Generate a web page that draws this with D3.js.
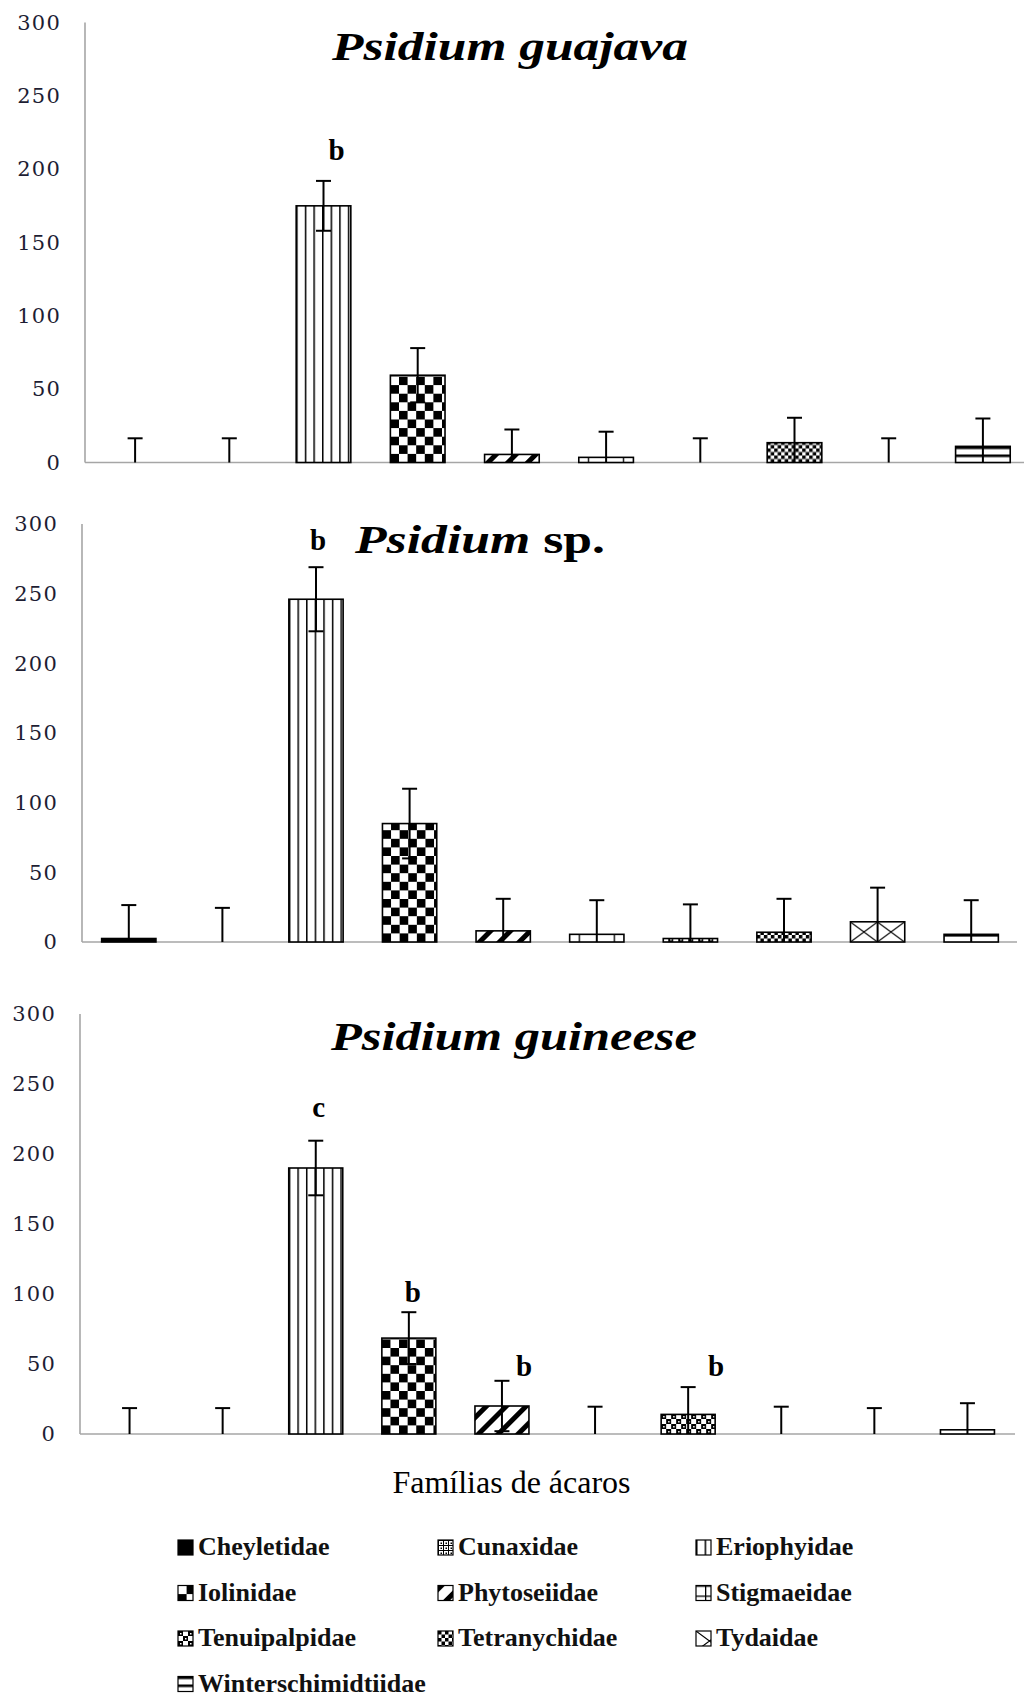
<!DOCTYPE html>
<html>
<head>
<meta charset="utf-8">
<script src="https://cdn.jsdelivr.net/npm/d3@7"></script>
<style>
  body { margin: 0; background: #fff; }
  svg { display: block; }
</style>
</head>
<body>
<div id="chart"></div>
<script>

// ---------------- data ----------------
var families = ['Cheyletidae', 'Cunaxidae', 'Eriophyidae', 'Iolinidae', 'Phytoseiidae',
    'Stigmaeidae', 'Tenuipalpidae', 'Tetranychidae', 'Tydaidae', 'Winterschimidtiidae'];

var yTicks = [0, 50, 100, 150, 200, 250, 300];

var guajavaMean = [0, 0, 175, 59.5, 5.5, 3.5, 0, 13.5, 0, 11];
var guajavaErr = [16.5, 16.5, 17, 18.5, 17, 17.5, 16.5, 17, 16.5, 19];
var guajavaLetters = ['', '', 'b', '', '', '', '', '', '', ''];

var spMean = [2.5, 0, 246, 85, 8, 5.5, 2.5, 7, 14.5, 5.5];
var spErr = [24, 24.5, 23, 25, 23, 24.5, 24.5, 24, 24.5, 24.5];
var spLetters = ['', '', 'b', '', '', '', '', '', '', ''];

var guineenseMean = [0, 0, 190, 68.5, 20, 0, 14, 0, 0, 3];
var guineenseErr = [18.5, 18.5, 19.5, 18.5, 18, 19.5, 19.5, 19.5, 18.5, 19];
var guineenseLetters = ['', '', 'c', 'b', 'b', '', 'b', '', '', ''];

var xTitle = 'Famílias de ácaros';

// pattern id per family (same order as families)
var patternIds = ['solid', 'cunax', 'erio', 'iolin', 'phyto', 'stigma', 'tenui', 'tetra', 'tydai', 'winter'];


function getChart(params) {
    var attrs = {
        svgWidth: 1026,
        svgHeight: 1698,
        panels: [],
        fontSerif: '"Liberation Serif", "Times New Roman", serif',
        fontTicks: '"DejaVu Serif", serif',
        axisColor: '#a6a6a6'
    };

    Object.keys(attrs).forEach(function (key) {
        if (params && params[key]) {
            attrs[key] = params[key];
        }
    });

    var main = function (selection) {
        selection.each(function () {

            var svg = d3.select(this)
                .append('svg')
                .attr('width', attrs.svgWidth)
                .attr('height', attrs.svgHeight);

            var defs = svg.append('defs');
            buildPatterns(defs);

            // ---------- panels ----------
            attrs.panels.forEach(function (p) {
                var g = svg.append('g');

                var x = d3.scaleBand()
                    .domain(families)
                    .range(p.xRange)
                    .paddingInner(0.42)
                    .paddingOuter(0.21);

                var y = d3.scaleLinear()
                    .domain([0, 300])
                    .range([p.base, p.top]);

                // y labels (no ticks, no domain)
                var yAxis = g.append('g')
                    .attr('transform', 'translate(' + p.axisX + ',0)')
                    .call(d3.axisLeft(y).tickValues(yTicks).tickSize(0).tickPadding(24));
                yAxis.select('.domain').remove();
                yAxis.selectAll('text')
                    .attr('font-family', attrs.fontTicks)
                    .attr('font-size', 21)
                    .attr('letter-spacing', 1.2)
                    .attr('fill', '#1d1d33');

                // axis lines
                g.append('line')
                    .attr('x1', p.axisX).attr('x2', p.axisX)
                    .attr('y1', y(300)).attr('y2', y(0))
                    .attr('stroke', attrs.axisColor).attr('stroke-width', 1.6);
                g.append('line')
                    .attr('x1', p.axisX).attr('x2', p.lineEnd)
                    .attr('y1', y(0)).attr('y2', y(0))
                    .attr('stroke', attrs.axisColor).attr('stroke-width', 1.6);

                var rows = families.map(function (f, i) {
                    return { fam: f, i: i, v: p.mean[i], e: p.err[i], letter: p.letters[i] };
                });

                // bars (each bar in its own group so the pattern starts at its corner)
                var barG = g.selectAll('.bar')
                    .data(rows.filter(function (d) { return d.v > 0; }))
                    .enter()
                    .append('g')
                    .attr('class', 'bar')
                    .attr('transform', function (d) { return 'translate(' + x(d.fam) + ',' + y(0) + ')'; });

                barG.append('rect')
                    .attr('x', 0)
                    .attr('y', function (d) { return y(d.v) - y(0); })
                    .attr('width', x.bandwidth())
                    .attr('height', function (d) { return y(0) - y(d.v); })
                    .attr('fill', function (d) { return 'url(#pat-' + patternIds[d.i] + ')'; })
                    .attr('stroke', '#000')
                    .attr('stroke-width', 1.6);

                // error bars
                var errG = g.selectAll('.err')
                    .data(rows)
                    .enter()
                    .append('g')
                    .attr('class', 'err')
                    .attr('transform', function (d) { return 'translate(' + (x(d.fam) + x.bandwidth() / 2) + ',0)'; })
                    .attr('stroke', '#000')
                    .attr('stroke-width', 2);

                errG.append('line')
                    .attr('y1', function (d) { return y(Math.max(0, d.v - d.e)); })
                    .attr('y2', function (d) { return y(d.v + d.e); });
                errG.append('line')
                    .attr('x1', -7.5).attr('x2', 7.5)
                    .attr('y1', function (d) { return y(d.v + d.e); })
                    .attr('y2', function (d) { return y(d.v + d.e); });
                errG.filter(function (d) { return d.v - d.e > 0; })
                    .append('line')
                    .attr('x1', -7.5).attr('x2', 7.5)
                    .attr('y1', function (d) { return y(d.v - d.e); })
                    .attr('y2', function (d) { return y(d.v - d.e); });

                // significance letters
                g.selectAll('.letter')
                    .data(rows.filter(function (d) { return d.letter; }))
                    .enter()
                    .append('text')
                    .attr('class', 'letter')
                    .attr('x', function (d) { return x(d.fam) + x.bandwidth() / 2 + p.nudge[d.i][0]; })
                    .attr('y', function (d) { return y(d.v + d.e) - p.nudge[d.i][1]; })
                    .attr('text-anchor', 'middle')
                    .attr('font-family', attrs.fontSerif)
                    .attr('font-weight', 'bold')
                    .attr('font-size', 29)
                    .attr('fill', '#000')
                    .text(function (d) { return d.letter; });

                // title, stretched to the measured width of the original
                var tg = g.append('g');
                var t = tg.append('text')
                    .attr('font-family', attrs.fontSerif)
                    .attr('font-weight', 'bold')
                    .attr('font-size', 40)
                    .attr('fill', '#000');
                p.title.forEach(function (part) {
                    t.append('tspan')
                        .attr('font-style', part.italic ? 'italic' : 'normal')
                        .text(part.text);
                });
                var w = t.node().getComputedTextLength();
                tg.attr('transform', 'translate(' + p.titleX + ',' + p.titleBase + ') scale(' + (p.titleW / w) + ',1)');
            });

            // ---------- x title ----------
            svg.append('text')
                .attr('x', 511.5)
                .attr('y', 1493)
                .attr('text-anchor', 'middle')
                .attr('font-family', attrs.fontSerif)
                .attr('font-size', 32)
                .attr('fill', '#000')
                .text(xTitle);

            // ---------- legend ----------
            var colX = [178, 438, 696];
            var legend = svg.selectAll('.legend')
                .data(families)
                .enter()
                .append('g')
                .attr('class', 'legend')
                .attr('transform', function (d, i) {
                    return 'translate(' + colX[i % 3] + ',' + (1555 + Math.floor(i / 3) * 45.5) + ')';
                });

            legend.append('g')
                .attr('transform', 'translate(0,-15)')
                .append('rect')
                .attr('width', 15).attr('height', 15)
                .attr('fill', function (d, i) { return 'url(#pat-' + patternIds[i] + ')'; })
                .attr('stroke', '#000')
                .attr('stroke-width', 1.2);

            legend.append('text')
                .attr('x', 20)
                .attr('font-family', attrs.fontSerif)
                .attr('font-weight', 'bold')
                .attr('font-size', 26)
                .attr('fill', '#111')
                .text(function (d) { return d; });
        });
    };

    function buildPatterns(defs) {
        function pat(id, w, h) {
            var p = defs.append('pattern')
                .attr('id', 'pat-' + id)
                .attr('patternUnits', 'userSpaceOnUse')
                .attr('width', w).attr('height', h);
            p.append('rect').attr('width', w).attr('height', h).attr('fill', '#fff');
            return p;
        }
        function box(p, x, y, w, h, c) {
            p.append('rect').attr('x', x).attr('y', y).attr('width', w).attr('height', h).attr('fill', c || '#000');
        }

        var solid = pat('solid', 4, 4);
        box(solid, 0, 0, 4, 4);

        var cunax = pat('cunax', 5, 5);
        box(cunax, 0, 0, 5, 1);
        box(cunax, 0, 0, 1, 5);
        box(cunax, 2.5, 2.5, 1.5, 1.5);

        var erio = pat('erio', 8.6, 10);
        box(erio, 0, 0, 1.5, 10);

        var iolin = pat('iolin', 17.2, 17.2);
        box(iolin, 0, 8.6, 8.6, 8.6);
        box(iolin, 8.6, 0, 8.6, 8.6);

        var phyto = pat('phyto', 14, 14).attr('patternTransform', 'rotate(45)');
        box(phyto, 0, 0, 5, 14);

        var stigma = pat('stigma', 35, 10);
        box(stigma, 0, 0, 35, 1.3);
        box(stigma, 9, 0, 1.3, 10);

        var tenui = pat('tenui', 10, 10);
        box(tenui, 0, 0, 5, 5);
        box(tenui, 5, 5, 5, 5);
        box(tenui, 2, 2, 1.5, 1.5, '#fff');
        box(tenui, 7, 7, 1.5, 1.5, '#fff');

        var tetra = pat('tetra', 7, 7);
        box(tetra, 0, 0, 3.5, 3.5);
        box(tetra, 3.5, 3.5, 3.5, 3.5);

        var tydai = pat('tydai', 27, 20);
        tydai.append('path')
            .attr('d', 'M0,0L27,20M27,0L0,20')
            .attr('stroke', '#000').attr('stroke-width', 1.1).attr('fill', 'none');

        var winter = pat('winter', 10, 8);
        box(winter, 0, 0, 10, 2.6);
    }

    return main;
}

function zeroNudge() {
    return families.map(function () { return [0, 14]; });
}

var n1 = zeroNudge(); n1[2] = [13, 21];
var n2 = zeroNudge(); n2[2] = [2, 17];
var n3 = zeroNudge(); n3[2] = [3, 24]; n3[3] = [4, 10]; n3[4] = [22, 5]; n3[6] = [28, 11];

var chart = getChart({
    panels: [
        {
            mean: guajavaMean, err: guajavaErr, letters: guajavaLetters, nudge: n1,
            title: [{ text: 'Psidium guajava', italic: true }],
            axisX: 85, top: 22.5, base: 462.5, xRange: [88, 1030], lineEnd: 1024,
            titleX: 332, titleBase: 60, titleW: 356
        },
        {
            mean: spMean, err: spErr, letters: spLetters, nudge: n2,
            title: [{ text: 'Psidium', italic: true }, { text: ' sp.', italic: false }],
            axisX: 82, top: 524, base: 942, xRange: [82, 1018], lineEnd: 1017,
            titleX: 355, titleBase: 553, titleW: 250
        },
        {
            mean: guineenseMean, err: guineenseErr, letters: guineenseLetters, nudge: n3,
            title: [{ text: 'Psidium  guineese', italic: true }],
            axisX: 80, top: 1014, base: 1434, xRange: [83, 1014], lineEnd: 1015,
            titleX: 331, titleBase: 1050, titleW: 366
        }
    ]
});

d3.select('#chart').call(chart);

</script>
</body>
</html>
